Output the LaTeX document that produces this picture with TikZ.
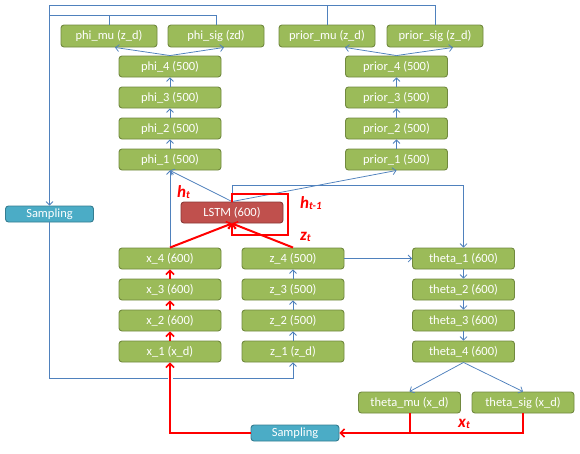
\documentclass[tikz,border=0pt]{standalone}
\usepackage{fontspec}
\setmainfont{Carlito}
\usetikzlibrary{arrows.meta,calc}
\definecolor{gfill}{HTML}{9BBB59}
\definecolor{gdraw}{HTML}{71893F}
\definecolor{lfill}{HTML}{C0504D}
\definecolor{ldraw}{HTML}{8C3836}
\definecolor{sfill}{HTML}{4BACC6}
\definecolor{sdraw}{HTML}{357D91}
\definecolor{bline}{HTML}{4F81BD}
\definecolor{rline}{HTML}{FF0000}
\begin{document}
\begin{tikzpicture}[x=1pt,y=-1pt,
  box/.style={draw=gdraw, fill=gfill, rounded corners=3pt, line width=0.9pt, text=white,
    minimum width=102pt, minimum height=21pt, inner sep=0pt, font=\fontsize{12.5}{14}\selectfont},
  topbox/.style={box, minimum width=96pt, minimum height=22pt},
  lstmbox/.style={box, draw=ldraw, fill=lfill},
  sampbox/.style={box, draw=sdraw, fill=sfill, minimum width=88pt, minimum height=16pt},
  bl/.style={draw=bline, line width=0.75pt},
  bla/.style={bl, -{Straight Barb[length=3.5pt,width=7pt]}},
  rd/.style={draw=rline, line width=2pt},
  rda/.style={rd, -{Straight Barb[length=4pt,width=8pt,line width=1.6pt]}},
  lbl/.style={text=rline, inner sep=0pt, anchor=base west, font=\fontsize{17}{17}\selectfont\bfseries\itshape},
]
\useasboundingbox[fill=white] (0,0) rectangle (580,453);

% top row
\node[topbox] (phimu) at (109,36) {phi\_mu (z\_d)};
\node[topbox] (phisig) at (216,36) {phi\_sig (zd)};
\node[topbox] (priormu) at (327,36) {prior\_mu (z\_d)};
\node[topbox] (priorsig) at (435,36) {prior\_sig (z\_d)};
% phi column
\node[box] (phi4) at (170,66.5) {phi\_4 (500)};
\node[box] (phi3) at (170,97.5) {phi\_3 (500)};
\node[box] (phi2) at (170,128.5) {phi\_2 (500)};
\node[box] (phi1) at (170,159.5) {phi\_1 (500)};
% prior column
\node[box] (prior4) at (396.5,66.5) {prior\_4 (500)};
\node[box] (prior3) at (396.5,97.5) {prior\_3 (500)};
\node[box] (prior2) at (396.5,128.5) {prior\_2 (500)};
\node[box] (prior1) at (396.5,159.5) {prior\_1 (500)};
% LSTM and sampling
\node[lstmbox] (lstm) at (232,212.5) {LSTM (600)};
\node[sampbox] (samp1) at (49.5,214) {Sampling};
% x column
\node[box] (x4) at (170,258.5) {x\_4 (600)};
\node[box] (x3) at (170,289.5) {x\_3 (600)};
\node[box] (x2) at (170,320.5) {x\_2 (600)};
\node[box] (x1) at (170,351.5) {x\_1 (x\_d)};
% z column
\node[box] (z4) at (293,258.5) {z\_4 (500)};
\node[box] (z3) at (293,289.5) {z\_3 (500)};
\node[box] (z2) at (293,320.5) {z\_2 (500)};
\node[box] (z1) at (293,351.5) {z\_1 (z\_d)};
% theta column
\node[box] (theta1) at (463.5,258.5) {theta\_1 (600)};
\node[box] (theta2) at (463.5,289.5) {theta\_2 (600)};
\node[box] (theta3) at (463.5,320.5) {theta\_3 (600)};
\node[box] (theta4) at (463.5,351.5) {theta\_4 (600)};
\node[box] (thetamu) at (409.5,402.5) {theta\_mu (x\_d)};
\node[box] (thetasig) at (523,402.5) {theta\_sig (x\_d)};
\node[sampbox] (samp2) at (295,433) {Sampling};

% top feedback lines
\coordinate (tl) at (49.5,5);
\coordinate (tl2) at (49.5,15);
\draw[bl] (priorsig.north) |- (tl);
\draw[bl] (priormu.north) -- (priormu.north |- tl);
\draw[bl] (phisig.north) |- (tl2);
\draw[bl] (phimu.north) -- (phimu.north |- tl2);
\draw[bla] (tl) -- (samp1.north);

% phi / prior stacks
\draw[bla] (phi1.north) -- (phi2.south);
\draw[bla] (phi2.north) -- (phi3.south);
\draw[bla] (phi3.north) -- (phi4.south);
\draw[bla] (phi4.north) -- ($(phimu.south)+(6,0)$);
\draw[bla] (phi4.north) -- ($(phisig.south)+(8,0)$);
\draw[bla] (prior1.north) -- (prior2.south);
\draw[bla] (prior2.north) -- (prior3.south);
\draw[bla] (prior3.north) -- (prior4.south);
\draw[bla] (prior4.north) -- ($(priormu.south)+(18,0)$);
\draw[bla] (prior4.north) -- ($(priorsig.south)+(18,0)$);

% LSTM outputs
\draw[bla] (lstm.north) -- (phi1.south);
\draw[bla] (lstm.north) -- (prior1.south);
\draw[bla] (lstm.north) -- ++(0,-16) -| (theta1.north);
\draw[bla] (x4.north) -- (phi1.south);

% z stack and theta stack
\draw[bla] (z1.north) -- (z2.south);
\draw[bla] (z2.north) -- (z3.south);
\draw[bla] (z3.north) -- (z4.south);
\draw[bla] (z4.east) -- (theta1.west);
\draw[bla] (theta1.south) -- (theta2.north);
\draw[bla] (theta2.south) -- (theta3.north);
\draw[bla] (theta3.south) -- (theta4.north);
\draw[bla] (theta4.south) -- (thetamu.north);
\draw[bla] (theta4.south) -- (thetasig.north);

% bottom blue feedback
\coordinate (bl1) at (49.5,378);
\draw[bla] (samp1.south) -- (bl1) -| (z1.south);

% red paths
\draw[rda] (x1.north) -- (x2.south);
\draw[rda] (x2.north) -- (x3.south);
\draw[rda] (x3.north) -- (x4.south);
\draw[rda] (x4.north) -- (lstm.south);
\draw[rda] (z4.north) -- (lstm.south);
\draw[rda] (lstm.north) -- ++(0,-8) -| ++(56,41) -| (lstm.south);
\draw[rda] (thetasig.south) |- (samp2.east);
\draw[rd] (thetamu.south) -- (thetamu.south |- samp2.east);
\draw[draw=white, line width=5pt] (170,372) -- (170,384);
\draw[rda] (samp2.west) -| (x1.south);

% labels
\node[lbl] (lht) at (177,197) {h\raisebox{-1.5pt}{\fontsize{11}{11}\selectfont t}};
\node[lbl] (lhtm) at (300,208) {h\raisebox{-1.5pt}{\fontsize{11}{11}\selectfont t-1}};
\node[lbl] (lzt) at (300,240) {z\raisebox{-1.5pt}{\fontsize{11}{11}\selectfont t}};
\node[lbl] (lxt) at (458,427) {x\raisebox{-1.5pt}{\fontsize{11}{11}\selectfont t}};
\end{tikzpicture}
\end{document}
